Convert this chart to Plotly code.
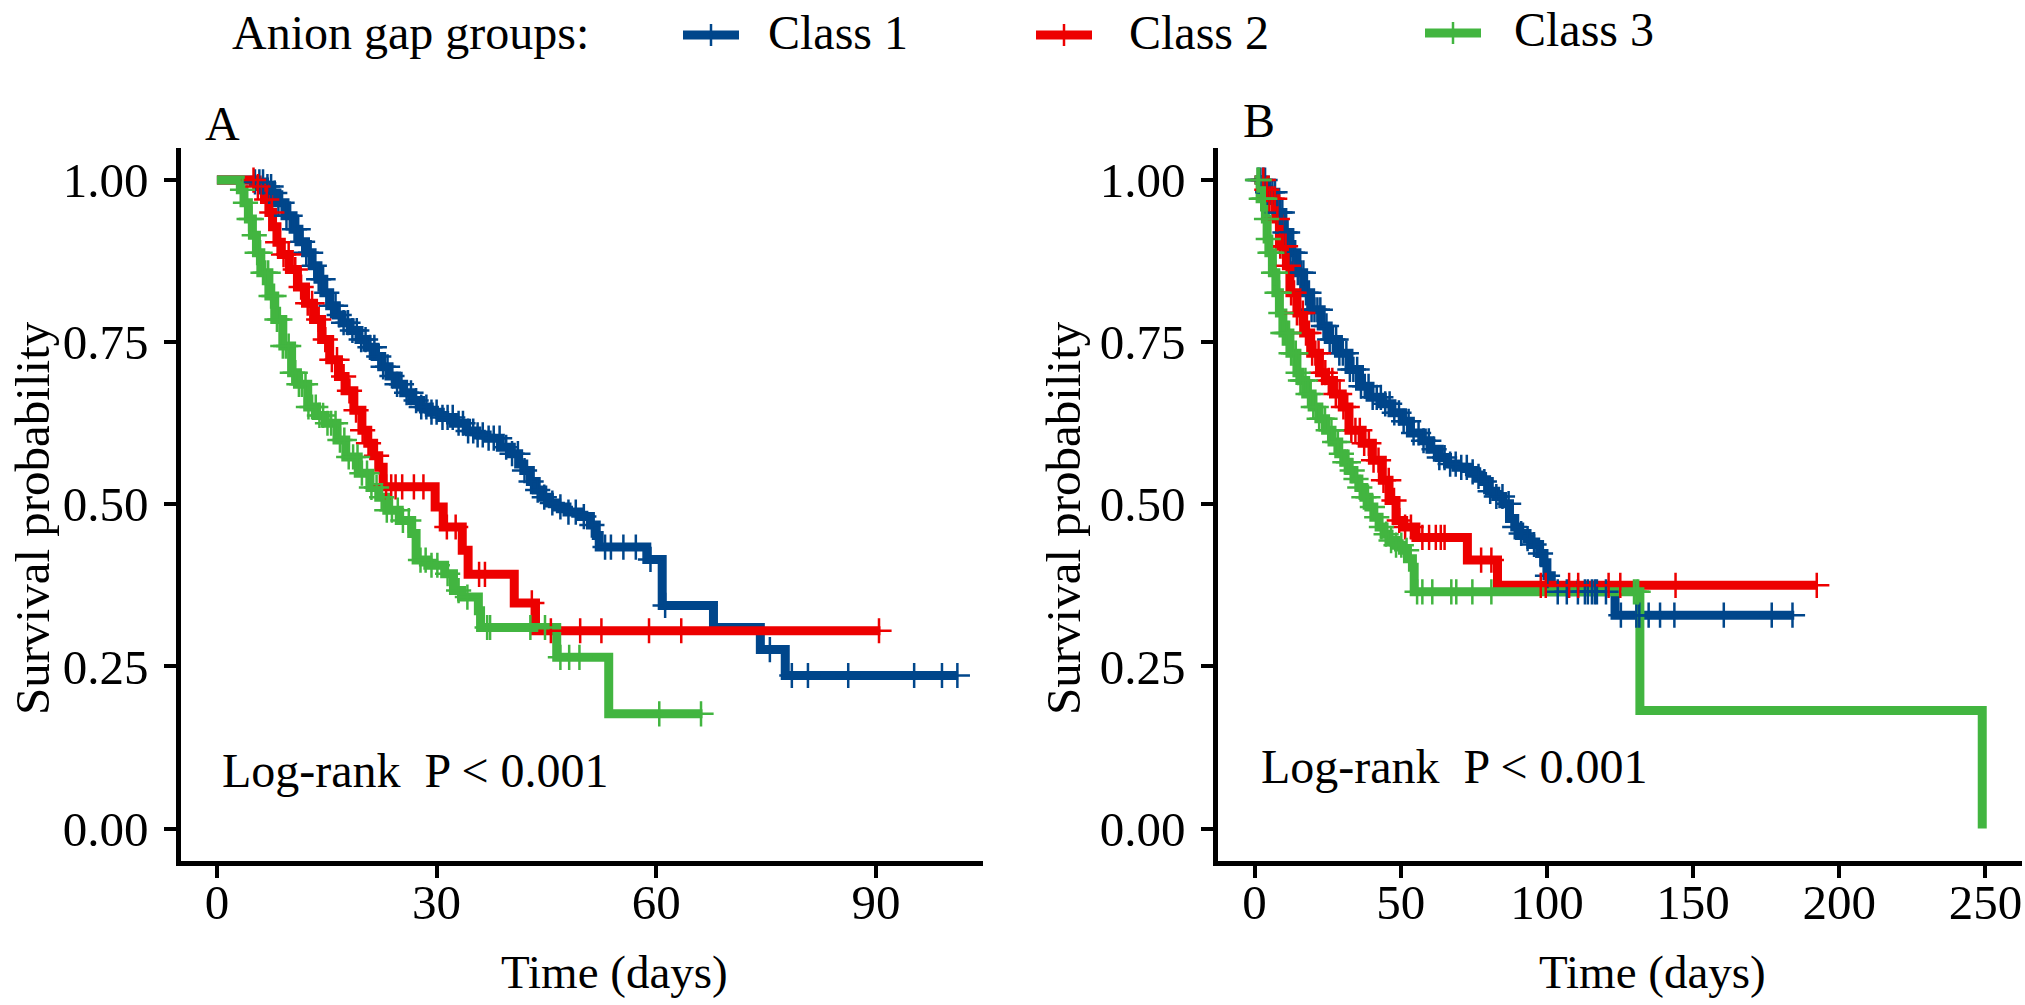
"""
Kaplan-Meier curves by anion gap class, two cohorts (A and B)
"""

import numpy as np
import plotly.graph_objects as go

W, H = 2025, 1005
FONT = 'Liberation Serif'
COLORS = ['#00468B', '#ED0000', '#42B540']
CLASSES = ['Class 1', 'Class 2', 'Class 3']

# ---- panel A: step points (time of drop, survival after drop) ----
a1_time = [0, 5.0, 6.5, 7.5, 8.2, 9.3, 10.4, 11.2, 12.1, 13.0, 13.8, 14.6, 15.4, 16.3, 17.1, 18.2,
           19.4, 20.5, 21.6, 22.5, 23.5, 24.5, 25.5, 26.6, 27.8, 29.0, 30.5, 32.3, 34.1, 35.5, 36.9,
           38.7, 40.2, 41.2, 41.9, 42.8, 43.6, 44.5, 45.4, 46.4, 47.8, 49.6, 51.0, 51.8, 52.2, 58.7,
           60.8, 67.8, 74.2, 77.6, 101.2]
a1_surv = [1.0, 0.997, 0.99, 0.98, 0.965, 0.945, 0.924, 0.905, 0.888, 0.868, 0.847, 0.826, 0.806,
           0.792, 0.78, 0.768, 0.754, 0.742, 0.728, 0.712, 0.698, 0.685, 0.672, 0.66, 0.65, 0.642,
           0.634, 0.625, 0.613, 0.607, 0.602, 0.588, 0.578, 0.562, 0.552, 0.535, 0.522, 0.511, 0.502,
           0.496, 0.488, 0.481, 0.468, 0.452, 0.434, 0.415, 0.344, 0.31, 0.276, 0.236, 0.236]
a1_cens = [5.2, 5.8, 6.3, 6.9, 7.4, 7.9, 8.4, 8.9, 9.5, 10.0, 10.6, 11.1, 11.7, 12.2, 12.8, 13.3,
           13.9, 14.5, 15.0, 15.6, 16.2, 16.7, 17.3, 17.9, 18.5, 19.1, 19.7, 20.3, 20.9, 21.5, 22.1,
           22.7, 23.3, 23.9, 24.6, 25.2, 25.9, 26.5, 27.2, 27.9, 28.6, 29.3, 30.0, 30.8, 31.5, 32.2,
           33.0, 33.6, 34.3, 35.0, 35.6, 36.3, 37.1, 37.8, 38.6, 39.5, 40.3, 41.1, 42.0, 42.9, 43.8,
           44.7, 45.8, 46.9, 48.0, 49.0, 50.1, 51.2, 53.0, 53.8, 55.5, 57.2, 59.2, 61.2, 75.5, 78.5,
           80.7, 86.2, 95.2, 99.0, 101.1]

a2_time = [0, 5.5, 6.5, 7.1, 7.6, 8.2, 8.8, 9.9, 11.0, 12.1, 13.2, 14.3, 15.4, 16.6, 17.5, 18.7,
           19.8, 20.6, 21.4, 22.1, 22.7, 29.8, 30.9, 33.5, 34.3, 40.6, 43.5, 90.6]
a2_surv = [1.0, 0.99, 0.97, 0.95, 0.928, 0.904, 0.885, 0.862, 0.835, 0.81, 0.785, 0.754, 0.723,
           0.697, 0.675, 0.645, 0.614, 0.594, 0.575, 0.557, 0.527, 0.496, 0.465, 0.429, 0.392,
           0.348, 0.305, 0.305]
a2_cens = [5.0, 5.6, 6.8, 7.5, 8.3, 9.1, 9.8, 10.7, 11.5, 12.4, 13.0, 13.9, 14.8, 15.7, 16.4, 17.3,
           18.1, 19.0, 19.9, 20.7, 21.8, 23.1, 23.8, 24.4, 25.3, 26.9, 28.2, 31.4, 32.6, 35.8, 36.6,
           43.0, 45.6, 49.6, 52.5, 59.0, 63.4, 90.4]

a3_time = [0, 3.2, 3.7, 4.3, 4.85, 5.4, 6.0, 7.1, 7.9, 9.0, 10.2, 11.0, 12.4, 13.6, 14.8, 16.4,
           17.6, 19.3, 20.9, 22.1, 23.2, 24.9, 26.6, 27.2, 28.8, 31.1, 32.3, 33.4, 35.7, 36.0, 46.4,
           53.5, 66.3]
a3_surv = [1.0, 0.985, 0.965, 0.94, 0.915, 0.888, 0.857, 0.821, 0.785, 0.744, 0.703, 0.685, 0.65,
           0.637, 0.625, 0.599, 0.573, 0.548, 0.526, 0.511, 0.491, 0.475, 0.455, 0.414, 0.406,
           0.393, 0.367, 0.357, 0.336, 0.31, 0.264, 0.177, 0.177]
a3_cens = [3.5, 3.9, 4.4, 4.7, 5.1, 5.5, 5.9, 6.3, 6.6, 7.0, 7.4, 7.8, 8.2, 8.6, 9.0, 9.4, 9.8,
           10.3, 10.7, 11.2, 11.6, 12.1, 12.5, 13.0, 13.5, 14.0, 14.5, 15.1, 15.6, 16.2, 16.8, 17.4,
           18.0, 18.6, 19.2, 19.8, 20.5, 21.1, 21.8, 22.5, 23.2, 23.9, 24.7, 25.4, 26.2, 27.8, 28.5,
           29.3, 30.1, 31.5, 33.0, 34.2, 36.9, 37.3, 42.8, 44.8, 46.9, 48.1, 49.5, 60.4, 66.1]

# ---- panel B ----
b1_time = [0, 3.7, 7.3, 9.7, 12.1, 14.5, 16.8, 19.2, 22.8, 25.2, 28.7, 32.3, 35.9, 39.5, 43.7,
           47.0, 50.6, 53.3, 57.4, 60.0, 63.2, 66.0, 68.9, 73.5, 76.0, 78.0, 80.3, 82.5, 84.9, 87.2,
           89.0, 90.7, 93.2, 94.5, 97.5, 99.0, 100.0, 101.5, 123.3, 184.6]
b1_surv = [1.0, 0.981, 0.95, 0.919, 0.888, 0.857, 0.826, 0.8, 0.775, 0.754, 0.733, 0.708, 0.682,
           0.665, 0.655, 0.641, 0.628, 0.61, 0.598, 0.585, 0.572, 0.562, 0.557, 0.55, 0.543, 0.535,
           0.52, 0.512, 0.501, 0.478, 0.465, 0.455, 0.447, 0.438, 0.424, 0.41, 0.39, 0.365,
           0.329, 0.329]
b1_cens = [1.2, 2.0, 2.9, 3.6, 4.5, 5.3, 6.1, 7.0, 7.8, 8.7, 9.5, 10.4, 11.3, 12.2, 13.0, 13.9,
           14.8, 15.8, 16.7, 17.6, 18.6, 19.5, 20.5, 21.5, 22.5, 23.6, 24.6, 25.7, 26.8, 27.9, 29.0,
           30.2, 31.4, 32.6, 33.8, 35.1, 36.4, 37.7, 39.0, 40.4, 41.8, 43.2, 44.7, 46.2, 47.8, 49.4,
           51.0, 52.7, 54.4, 56.1, 57.8, 59.6, 61.4, 63.2, 65.0, 66.9, 68.8, 70.7, 72.6, 74.6, 76.6,
           78.6, 80.6, 82.7, 84.8, 86.9, 89.0, 91.2, 93.4, 95.6, 97.8, 100.2, 103.7, 106.8, 110.6,
           113.0, 114.0, 115.4, 116.4, 117.1, 120.2, 125.3, 130.6, 131.6, 134.8, 138.7, 143.6,
           160.5, 176.9, 184.0]

b2_time = [0, 3.7, 4.9, 7.3, 8.5, 10.9, 12.1, 14.5, 16.8, 19.2, 22.2, 24.3, 27.0, 30.0, 32.3,
           36.8, 40.3, 43.7, 46.0, 48.4, 51.0, 55.2, 72.8, 83.1, 192.6]
b2_surv = [1.0, 0.985, 0.971, 0.94, 0.898, 0.868, 0.826, 0.795, 0.764, 0.733, 0.703, 0.691, 0.67,
           0.65, 0.614, 0.594, 0.568, 0.537, 0.506, 0.475, 0.465, 0.449, 0.414, 0.375, 0.375]
b2_cens = [3.0, 4.2, 5.1, 6.0, 6.9, 7.8, 8.8, 9.7, 10.6, 11.6, 12.5, 13.5, 14.5, 15.5, 16.5, 17.6,
           18.6, 19.7, 20.8, 21.9, 23.1, 24.2, 25.4, 26.6, 27.8, 29.1, 30.4, 31.7, 33.1, 34.5, 36.0,
           37.5, 39.1, 40.7, 42.4, 44.1, 45.9, 47.7, 49.5, 51.5, 53.5, 57.4, 59.7, 62.0, 63.7, 65.0,
           77.5, 81.0, 97.9, 99.6, 107.6, 110.7, 121.1, 125.1, 144.0, 192.3]

b3_time = [0, 1.9, 3.7, 4.3, 4.9, 6.1, 7.3, 8.5, 9.7, 12.1, 14.5, 15.5, 17.5, 19.7, 22.0, 24.3,
           26.5, 28.8, 30.5, 32.3, 34.0, 35.7, 37.4, 39.1, 40.8, 42.6, 44.3, 46.0, 48.3, 50.6, 52.3,
           54.0, 54.6, 131.8, 248.9]
b3_surv = [1.0, 0.971, 0.94, 0.909, 0.888, 0.857, 0.826, 0.795, 0.764, 0.733, 0.703, 0.691, 0.67,
           0.65, 0.632, 0.614, 0.596, 0.578, 0.565, 0.552, 0.539, 0.526, 0.511, 0.496, 0.48, 0.465,
           0.454, 0.444, 0.437, 0.429, 0.416, 0.403, 0.365, 0.182, 0.0]
b3_cens = [1.0, 1.6, 2.3, 2.9, 3.5, 4.1, 4.7, 5.3, 5.9, 6.5, 7.1, 7.7, 8.4, 9.0, 9.7, 10.4, 11.1,
           11.8, 12.5, 13.3, 14.1, 14.9, 15.7, 16.5, 17.4, 18.3, 19.2, 20.1, 21.1, 22.1, 23.1, 24.1,
           25.2, 26.3, 27.4, 28.5, 29.7, 30.9, 32.1, 33.4, 34.7, 36.0, 37.4, 38.8, 40.3, 41.8, 43.4,
           45.0, 46.7, 48.4, 50.2, 52.0, 55.6, 57.4, 60.8, 67.3, 69.0, 74.5, 81.0, 129.8, 130.6,
           131.2]

a_ticks = [0, 30, 60, 90]
b_ticks = [0, 50, 100, 150, 200, 250]
y_ticks = [0, 0.25, 0.5, 0.75, 1.0]
y_text = ['0.00', '0.25', '0.50', '0.75', '1.00']


def px_x(x):
    return x / W


def px_y(y):
    return 1 - y / H


def surv_at(times, survs, t):
    """value of the step curve at the censoring times"""
    idx = np.searchsorted(np.array(times), np.array(t), side='right') - 1
    return np.array(survs)[idx]


panels = [
    ('x', 'y', [(a1_time, a1_surv, a1_cens), (a2_time, a2_surv, a2_cens), (a3_time, a3_surv, a3_cens)]),
    ('x2', 'y2', [(b1_time, b1_surv, b1_cens), (b2_time, b2_surv, b2_cens), (b3_time, b3_surv, b3_cens)]),
]

fig = go.Figure()
for xa, ya, curves in panels:
    for (t, s, c), col in zip(curves, COLORS):
        fig.add_trace(go.Scatter(x=t, y=s, mode='lines', line=dict(color=col, width=9, shape='hv'),
                                 xaxis=xa, yaxis=ya, showlegend=False, hoverinfo='skip'))
    for (t, s, c), col in zip(curves, COLORS):
        fig.add_trace(go.Scatter(x=c, y=surv_at(t, s, c), mode='markers',
                                 marker=dict(symbol='cross-thin', size=18, color=col,
                                             line=dict(color=col, width=2.5)),
                                 xaxis=xa, yaxis=ya, showlegend=False, hoverinfo='skip'))

axis_style = dict(showline=True, linecolor='black', linewidth=4.5, ticks='outside', ticklen=12,
                  tickwidth=4, tickcolor='black', showgrid=False, zeroline=False,
                  tickfont=dict(family=FONT, size=49, color='black'))
y_dom = [px_y(861), px_y(147.6)]

fig.update_layout(
    width=W, height=H, margin=dict(l=0, r=0, t=0, b=0),
    paper_bgcolor='white', plot_bgcolor='white',
    xaxis=dict(domain=[px_x(181), px_x(983)], range=[-4.9, 104.6], tickvals=a_ticks, anchor='y',
               ticklabelstandoff=-18, **axis_style),
    yaxis=dict(domain=y_dom, range=[-0.05, 1.05], tickvals=y_ticks, ticktext=y_text, anchor='x',
               ticklabelstandoff=6, **axis_style),
    xaxis2=dict(domain=[px_x(1218), px_x(2022)], range=[-12.5, 262.5], tickvals=b_ticks, anchor='y2',
                ticklabelstandoff=-18, **axis_style),
    yaxis2=dict(domain=y_dom, range=[-0.05, 1.05], tickvals=y_ticks, ticktext=y_text, anchor='x2',
                ticklabelstandoff=6, **axis_style),
)

txt = dict(family=FONT, color='black')
notes = [
    dict(text='Survival probability', x=px_x(32), y=px_y(518), textangle=-90, size=49),
    dict(text='Survival probability', x=px_x(1063), y=px_y(518), textangle=-90, size=49),
    dict(text='Time (days)', x=px_x(614), y=px_y(972), size=47),
    dict(text='Time (days)', x=px_x(1652), y=px_y(972), size=47),
    dict(text='A', x=px_x(222), y=px_y(123), size=48),
    dict(text='B', x=px_x(1259), y=px_y(121), size=48),
]
for n in notes:
    fig.add_annotation(text=n['text'], x=n['x'], y=n['y'], xref='paper', yref='paper',
                       showarrow=False, textangle=n.get('textangle', 0),
                       font=dict(size=n['size'], **txt), xanchor='center', yanchor='middle')

fig.add_annotation(text='Log-rank  P < 0.001', x=0.4, y=0.09, xref='x', yref='y', showarrow=False,
                   xanchor='left', yanchor='middle', font=dict(size=48, **txt))
fig.add_annotation(text='Log-rank  P < 0.001', x=1.4, y=0.095, xref='x2', yref='y2', showarrow=False,
                   xanchor='left', yanchor='middle', font=dict(size=48, **txt))

# legend row drawn by hand
fig.add_annotation(text='Anion gap groups:', x=px_x(230), y=px_y(32), xref='paper', yref='paper',
                   showarrow=False, xanchor='left', yanchor='middle', font=dict(size=48, **txt))
legend_pos = [(683, 766, 32), (1036, 1127, 32), (1425, 1512, 30)]
for (sx, tx, ly), col, name in zip(legend_pos, COLORS, CLASSES):
    fig.add_shape(type='line', xref='paper', yref='paper', x0=px_x(sx), x1=px_x(sx + 56),
                  y0=px_y(ly + 3), y1=px_y(ly + 3), line=dict(color=col, width=9))
    fig.add_shape(type='line', xref='paper', yref='paper', x0=px_x(sx + 28), x1=px_x(sx + 28),
                  y0=px_y(ly - 8), y1=px_y(ly + 14), line=dict(color=col, width=2.5))
    fig.add_annotation(text=name, x=px_x(tx), y=px_y(ly), xref='paper', yref='paper',
                       showarrow=False, xanchor='left', yanchor='middle', font=dict(size=48, **txt))

fig.write_html("out.html", config={'displayModeBar': False},
               post_script="document.body.style.margin='0';")
